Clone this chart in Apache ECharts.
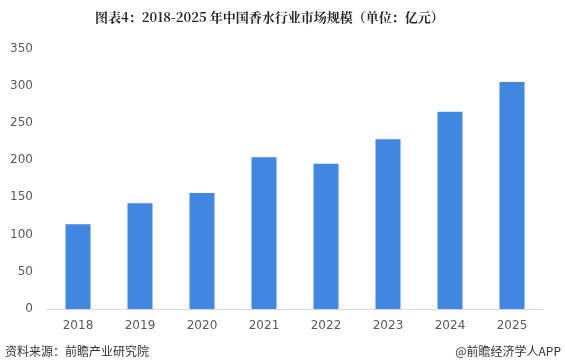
<!DOCTYPE html>
<html><head><meta charset="utf-8">
<script src="https://cdn.jsdelivr.net/npm/echarts@6/dist/echarts.min.js"></script>
<style>html,body{margin:0;padding:0;background:#fff}#c{width:565px;height:363px}</style>
</head><body><div id="c"></div>
<script>
var titleText = '图表4：2018-2025 年中国香水行业市场规模（单位：亿元）';
var categories = ['2018','2019','2020','2021','2022','2023','2024','2025'];
var values = [114, 142, 156, 204, 195, 228, 265, 305];
var yTicks = [0, 350, 50];
var sourceText = '资料来源：前瞻产业研究院';
var brandText = '@前瞻经济学人APP';

var chart = echarts.init(document.getElementById('c'));
chart.setOption({
  animation: false,
  backgroundColor: '#fff',
  title: {
    text: titleText, left: 90, top: 6,
    textStyle: {fontSize: 13, fontWeight: 'bold', color: '#262626', fontFamily: 'Noto Serif CJK SC, Noto Sans CJK SC, serif'}
  },
  grid: {left: 47, right: 22, top: 48.5, bottom: 54},
  xAxis: {
    type: 'category', data: categories,
    axisLine: {lineStyle: {color: '#d9d9d9', width: 1}},
    axisTick: {show: false},
    axisLabel: {color: '#595959', fontSize: 12, margin: 11, fontFamily: 'DejaVu Sans, sans-serif'}
  },
  yAxis: {
    type: 'value', min: yTicks[0], max: yTicks[1], interval: yTicks[2],
    axisLine: {show: false}, axisTick: {show: false},
    splitLine: {show: false},
    axisLabel: {color: '#595959', fontSize: 12, margin: 14, fontFamily: 'DejaVu Sans, sans-serif'}
  },
  series: [{
    type: 'bar', data: values, barWidth: 25,
    itemStyle: {color: '#4186E0'}
  }],
  graphic: [
    {type: 'text', left: 5, top: 345, style: {text: sourceText, fontSize: 12, fill: '#333', fontFamily: 'Noto Sans CJK SC, sans-serif'}},
    {type: 'text', right: 4, top: 345, style: {text: brandText, fontSize: 12, fill: '#333', fontFamily: 'Noto Sans CJK SC, sans-serif'}}
  ]
});
</script></body></html>
